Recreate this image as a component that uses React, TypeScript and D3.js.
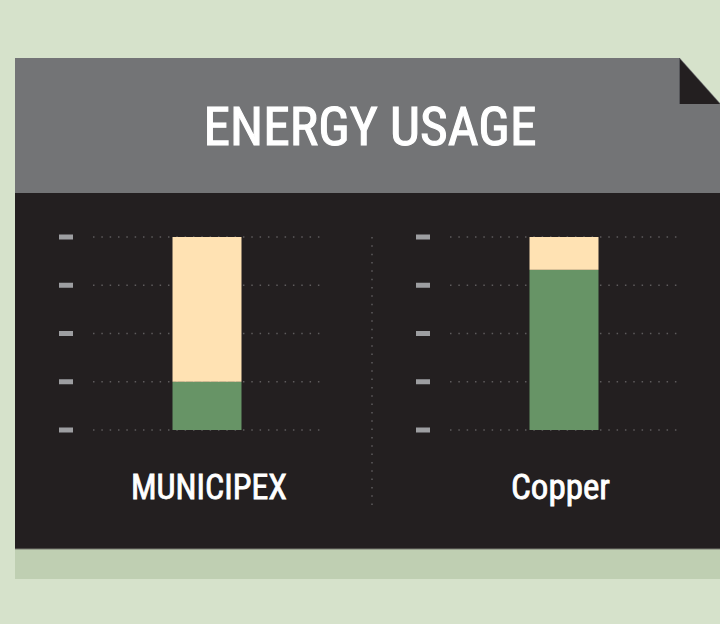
import React from "react";
import * as d3 from "d3";

const title = "ENERGY USAGE";
const categories = ["MUNICIPEX", "Copper"];
const greenValues = [25, 83];
const creamValues = [75, 17];
const tickValues = [0, 25, 50, 75, 100];

const W = 720;
const H = 624;
const FONT = "'Liberation Sans Narrow', 'Arial Narrow', 'Roboto Condensed', 'Liberation Sans', Arial, sans-serif";

export default function App() {
  const y = d3.scaleLinear().domain([0, 100]).range([430, 237]);
  const panels = d3.scaleBand<string>().domain(categories).range([15, 729]).paddingInner(0);
  const barW = 69;
  const stack = categories.map((c, i) => ({
    c,
    green: greenValues[i],
    cream: creamValues[i],
  }));
  const labelWidths = [156, 99];
  const labelShift = [2, -3.5];

  return (
    <div style={{ position: "absolute", left: 0, top: 0, width: W, height: H }}>
      <svg width={W} height={H} style={{ display: "block" }}>
        <rect x={0} y={0} width={W} height={H} fill="#d6e2cb" />
        <rect x={15} y={549} width={705} height={30} fill="#bfcfb2" />
        <rect x={15} y={193} width={705} height={356} fill="#231f20" />
        <line x1={15} x2={720} y1={549} y2={549} stroke="#76786f" strokeWidth={1} />
        <rect x={15} y={58} width={705} height={135} fill="#737476" />
        <polygon points="679,57 721,57 721,104" fill="#d6e2cb" />
        <polygon points="679,58 679,104 720,104" fill="#231f20" />
        <line x1={679.5} x2={679.5} y1={58} y2={104} stroke="#55565a" strokeWidth={1} />
        <text
          x={370}
          y={145}
          textAnchor="middle"
          fill="#ffffff"
          stroke="#ffffff"
          strokeWidth={1.1}
          fontFamily={FONT}
          fontSize={54}
          textLength={333}
          lengthAdjust="spacingAndGlyphs"
        >
          {title}
        </text>
        <line
          x1={372}
          x2={372}
          y1={237}
          y2={512}
          stroke="#5e5b5c"
          strokeWidth={1.5}
          strokeDasharray="1.5 6.83"
        />
        {stack.map((d, i) => {
          const px = panels(d.c)!;
          const tickX = px + 44;
          const lineX1 = px + 78;
          const lineX2 = px + 306;
          const cx = px + 192;
          return (
            <g key={d.c}>
              {tickValues.map((t) => (
                <g key={t}>
                  <rect x={tickX} y={y(t) - 2.5} width={14} height={5} fill="#9d9ea1" />
                  <line
                    x1={lineX1}
                    x2={lineX2}
                    y1={y(t)}
                    y2={y(t)}
                    stroke="#5e5b5c"
                    strokeWidth={1.5}
                    strokeDasharray="1.5 6.83"
                  />
                </g>
              ))}
              <rect
                x={cx - barW / 2}
                y={y(d.green)}
                width={barW}
                height={y(0) - y(d.green)}
                fill="#679466"
              />
              <rect
                x={cx - barW / 2}
                y={y(d.green + d.cream)}
                width={barW}
                height={y(d.green) - y(d.green + d.cream)}
                fill="#ffe2b3"
              />
              <text
                x={cx + labelShift[i]}
                y={499}
                textAnchor="middle"
                fill="#ffffff"
                stroke="#ffffff"
                strokeWidth={0.8}
                fontFamily={FONT}
                fontSize={35}
                textLength={labelWidths[i]}
                lengthAdjust="spacingAndGlyphs"
              >
                {d.c}
              </text>
            </g>
          );
        })}
      </svg>
    </div>
  );
}
